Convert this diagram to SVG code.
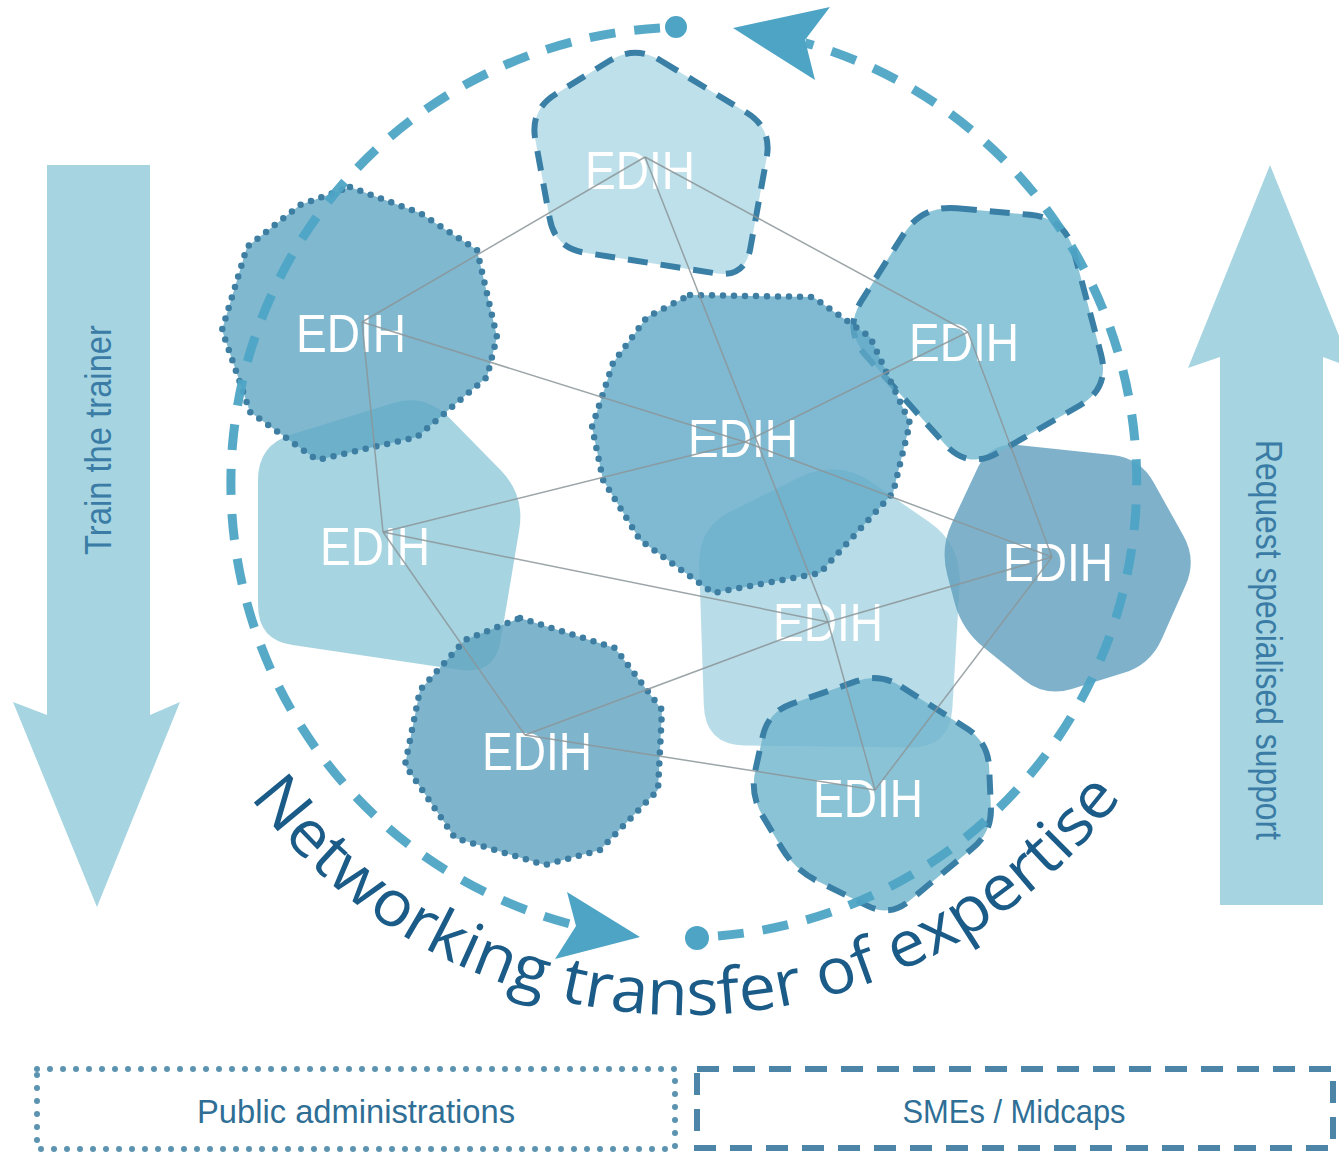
<svg xmlns="http://www.w3.org/2000/svg" width="1339" height="1154" viewBox="0 0 1339 1154">
<defs>
<style>
.shape{fill-opacity:0.8}
.dash{fill:none;stroke:#3a7fa5;stroke-width:6;stroke-dasharray:20 13;stroke-linejoin:round}
.dot{fill:none;stroke:#3d7ea2;stroke-width:6.5;stroke-linecap:round;stroke-linejoin:round;stroke-dasharray:0 11}
.lbl{font-family:"Liberation Sans",Arial,sans-serif;font-size:54px;fill:#ffffff;text-anchor:middle}
.edge{stroke:#8b9599;stroke-width:1.5;stroke-opacity:0.85}
.ring{fill:none;stroke:#4ea4c5;stroke-width:9;stroke-dasharray:26 19;stroke-opacity:0.95}
.ringfill{fill:#4ea4c5}
.side{fill:#a6d5e1}
.sidetxt{font-family:"Liberation Sans",Arial,sans-serif;font-size:36px;fill:#3a7ca5;text-anchor:middle}
.legtxt{font-family:"Liberation Sans",Arial,sans-serif;font-size:34px;fill:#2f6f96;text-anchor:middle}
</style>
<path id="arcText" d="M214,742.5 A545,545 0 0 0 1158,742.5"/>
</defs>
<rect width="1339" height="1154" fill="#ffffff"/>

<g id="arrow-left">
<polygon class="side" points="47,165 150,165 150,715 180,702 97,907 13,702 47,715"/>
<text class="sidetxt" transform="translate(111,440) rotate(-90)" textLength="230" lengthAdjust="spacingAndGlyphs">Train the trainer</text>
</g>
<g id="arrow-right">
<polygon class="side" points="1220,905 1323,905 1323,357 1352,368 1270,165 1188,368 1220,357"/>
<text class="sidetxt" transform="translate(1256,640) rotate(90)" textLength="400" lengthAdjust="spacingAndGlyphs">Request specialised support</text>
</g>

<g id="node-top">
<path class="shape" fill="#aed8e5" d="M660.6,60.5 L746.4,112.5 Q772,128 766.7,157.5 L750.3,248.5 Q745,278 715.4,273.3 L584.6,252.7 Q555,248 549.7,218.5 L535.3,139.5 Q530,110 555.5,94.2 L609.5,60.8 Q635,45 660.6,60.5 Z"/>
<path class="dash" d="M660.6,60.5 L746.4,112.5 Q772,128 766.7,157.5 L750.3,248.5 Q745,278 715.4,273.3 L584.6,252.7 Q555,248 549.7,218.5 L535.3,139.5 Q530,110 555.5,94.2 L609.5,60.8 Q635,45 660.6,60.5 Z"/>
<text class="lbl" x="640" y="189" textLength="110" lengthAdjust="spacingAndGlyphs">EDIH</text>
</g>

<g id="node-left-middle">
<path class="shape" fill="#91c9d9" d="M449.5,418 L500.5,470 Q525,495 519.3,529.5 L500.7,640.5 Q495,675 460.4,669.9 L292.6,645.1 Q258,640 258,605 L258,480 Q258,445 291.4,434.6 L391.6,403.4 Q425,393 449.5,418 Z"/>
<text class="lbl" x="375" y="565" textLength="110" lengthAdjust="spacingAndGlyphs">EDIH</text>
</g>

<g id="node-center-lower">
<path class="shape" fill="#a8d5e2" d="M872.8,482.9 L929.2,522.1 Q962,545 959.6,584.9 L952.4,708.1 Q950,748 910,747.5 L745,745.5 Q705,745 703.8,705 L699.2,565 Q698,525 734.8,509.4 L803.2,475.6 Q840,460 872.8,482.9 Z"/>
<text class="lbl" x="828" y="641" textLength="110" lengthAdjust="spacingAndGlyphs">EDIH</text>
</g>

<g id="node-right">
<path class="shape" fill="#5f9fbd" d="M1017.8,445 L1112.2,455 Q1140,458 1153.7,482.4 L1183.3,535.6 Q1197,560 1185.5,585.6 L1161.5,639.4 Q1150,665 1123.2,673.1 L1071.8,688.9 Q1045,697 1023.2,679.4 L983.8,647.6 Q962,630 954.7,603 L947.3,575 Q940,548 952,522.7 L978,467.3 Q990,442 1017.8,445 Z"/>
<text class="lbl" x="1058" y="581" textLength="110" lengthAdjust="spacingAndGlyphs">EDIH</text>
</g>

<g id="node-upper-right">
<path class="shape" fill="#72b8cf" d="M956.9,208.2 L1030.1,214.8 Q1065,218 1074,251.8 L1101,354.2 Q1110,388 1079.7,405.5 L998.3,452.5 Q968,470 944.7,443.9 L866.3,356.1 Q843,330 861.7,300.4 L903.3,234.6 Q922,205 956.9,208.2 Z"/>
<path class="dash" d="M956.9,208.2 L1030.1,214.8 Q1065,218 1074,251.8 L1101,354.2 Q1110,388 1079.7,405.5 L998.3,452.5 Q968,470 944.7,443.9 L866.3,356.1 Q843,330 861.7,300.4 L903.3,234.6 Q922,205 956.9,208.2 Z"/>
<text class="lbl" x="964" y="361" textLength="110" lengthAdjust="spacingAndGlyphs">EDIH</text>
</g>

<g id="node-upper-left">
<polygon class="shape" fill="#5fa6c3" points="350,187 420,213 477,250 497,337 487,377 417,437 317,460 250,412 222,330 247,247 300,205"/>
<polygon class="dot" points="350,187 420,213 477,250 497,337 487,377 417,437 317,460 250,412 222,330 247,247 300,205"/>
<text class="lbl" x="351" y="352" textLength="110" lengthAdjust="spacingAndGlyphs">EDIH</text>
</g>

<g id="node-center">
<polygon class="shape" fill="#60a9c7" points="690,295 813,297 870,337 910,423 893,493 820,573 713,593 640,540 603,480 592,427 613,363 647,317"/>
<polygon class="dot" points="690,295 813,297 870,337 910,423 893,493 820,573 713,593 640,540 603,480 592,427 613,363 647,317"/>
<text class="lbl" x="743" y="457" textLength="110" lengthAdjust="spacingAndGlyphs">EDIH</text>
</g>

<g id="node-bottom-left">
<polygon class="shape" fill="#5fa3bf" points="520,618 615,648 662,710 658,790 600,850 545,865 455,838 405,765 420,690 465,640"/>
<polygon class="dot" points="520,618 615,648 662,710 658,790 600,850 545,865 455,838 405,765 420,690 465,640"/>
<text class="lbl" x="537" y="770" textLength="110" lengthAdjust="spacingAndGlyphs">EDIH</text>
</g>

<g id="node-bottom-right">
<path class="shape" fill="#6eb4cc" d="M901.1,686.5 L966.9,728.5 Q988,742 989.1,767 L990.9,807 Q992,832 972.8,848 L909.2,901 Q890,917 867.6,905.9 L817.4,881.1 Q795,870 782.1,848.6 L762.9,816.4 Q750,795 755.3,770.5 L762.7,736.5 Q768,712 791.6,703.8 L856.4,681.2 Q880,673 901.1,686.5 Z"/>
<path class="dash" d="M901.1,686.5 L966.9,728.5 Q988,742 989.1,767 L990.9,807 Q992,832 972.8,848 L909.2,901 Q890,917 867.6,905.9 L817.4,881.1 Q795,870 782.1,848.6 L762.9,816.4 Q750,795 755.3,770.5 L762.7,736.5 Q768,712 791.6,703.8 L856.4,681.2 Q880,673 901.1,686.5 Z"/>
<text class="lbl" x="868" y="817" textLength="110" lengthAdjust="spacingAndGlyphs">EDIH</text>
</g>

<g id="connectors">
<line class="edge" x1="645" y1="157" x2="362" y2="322"/>
<line class="edge" x1="645" y1="157" x2="968" y2="332"/>
<line class="edge" x1="645" y1="157" x2="828" y2="622"/>
<line class="edge" x1="362" y1="322" x2="745" y2="442"/>
<line class="edge" x1="362" y1="322" x2="383" y2="532"/>
<line class="edge" x1="745" y1="442" x2="968" y2="332"/>
<line class="edge" x1="745" y1="442" x2="383" y2="532"/>
<line class="edge" x1="745" y1="442" x2="1052" y2="557"/>
<line class="edge" x1="968" y1="332" x2="1052" y2="557"/>
<line class="edge" x1="383" y1="532" x2="828" y2="622"/>
<line class="edge" x1="383" y1="532" x2="525" y2="735"/>
<line class="edge" x1="525" y1="735" x2="828" y2="622"/>
<line class="edge" x1="828" y1="622" x2="1052" y2="557"/>
<line class="edge" x1="828" y1="622" x2="875" y2="790"/>
<line class="edge" x1="525" y1="735" x2="875" y2="790"/>
<line class="edge" x1="1052" y1="557" x2="875" y2="790"/>
</g>

<g id="cycle">
<path class="ring" d="M660,28 A456,456 0 0 0 580,926.5"/>
<path class="ring" d="M718,936 A456,456 0 0 0 805,42.8"/>
<circle class="ringfill" cx="676" cy="27" r="11"/>
<circle class="ringfill" cx="697" cy="938" r="12"/>
<polygon class="ringfill" points="733,28 830,7 805,40 815,80"/>
<polygon class="ringfill" points="640,937 567,892 576,926 555,959"/>
</g>

<text font-family="'Open Sans','Noto Sans',sans-serif" font-size="64" fill="#1b5b88" text-anchor="middle"><textPath href="#arcText" startOffset="50%" textLength="1010" lengthAdjust="spacingAndGlyphs">Networking transfer of expertise</textPath></text>

<g id="legend-public">
<rect x="37" y="1069" width="638" height="80" fill="none" stroke="#5b93b0" stroke-width="6" stroke-linecap="round" stroke-dasharray="0 13"/>
<text class="legtxt" x="356" y="1123" textLength="318" lengthAdjust="spacingAndGlyphs">Public administrations</text>
</g>
<g id="legend-smes">
<rect x="697" y="1069" width="636" height="79" fill="none" stroke="#4c85a8" stroke-width="6" stroke-dasharray="22 14"/>
<text class="legtxt" x="1014" y="1123" textLength="223" lengthAdjust="spacingAndGlyphs">SMEs / Midcaps</text>
</g>
</svg>
